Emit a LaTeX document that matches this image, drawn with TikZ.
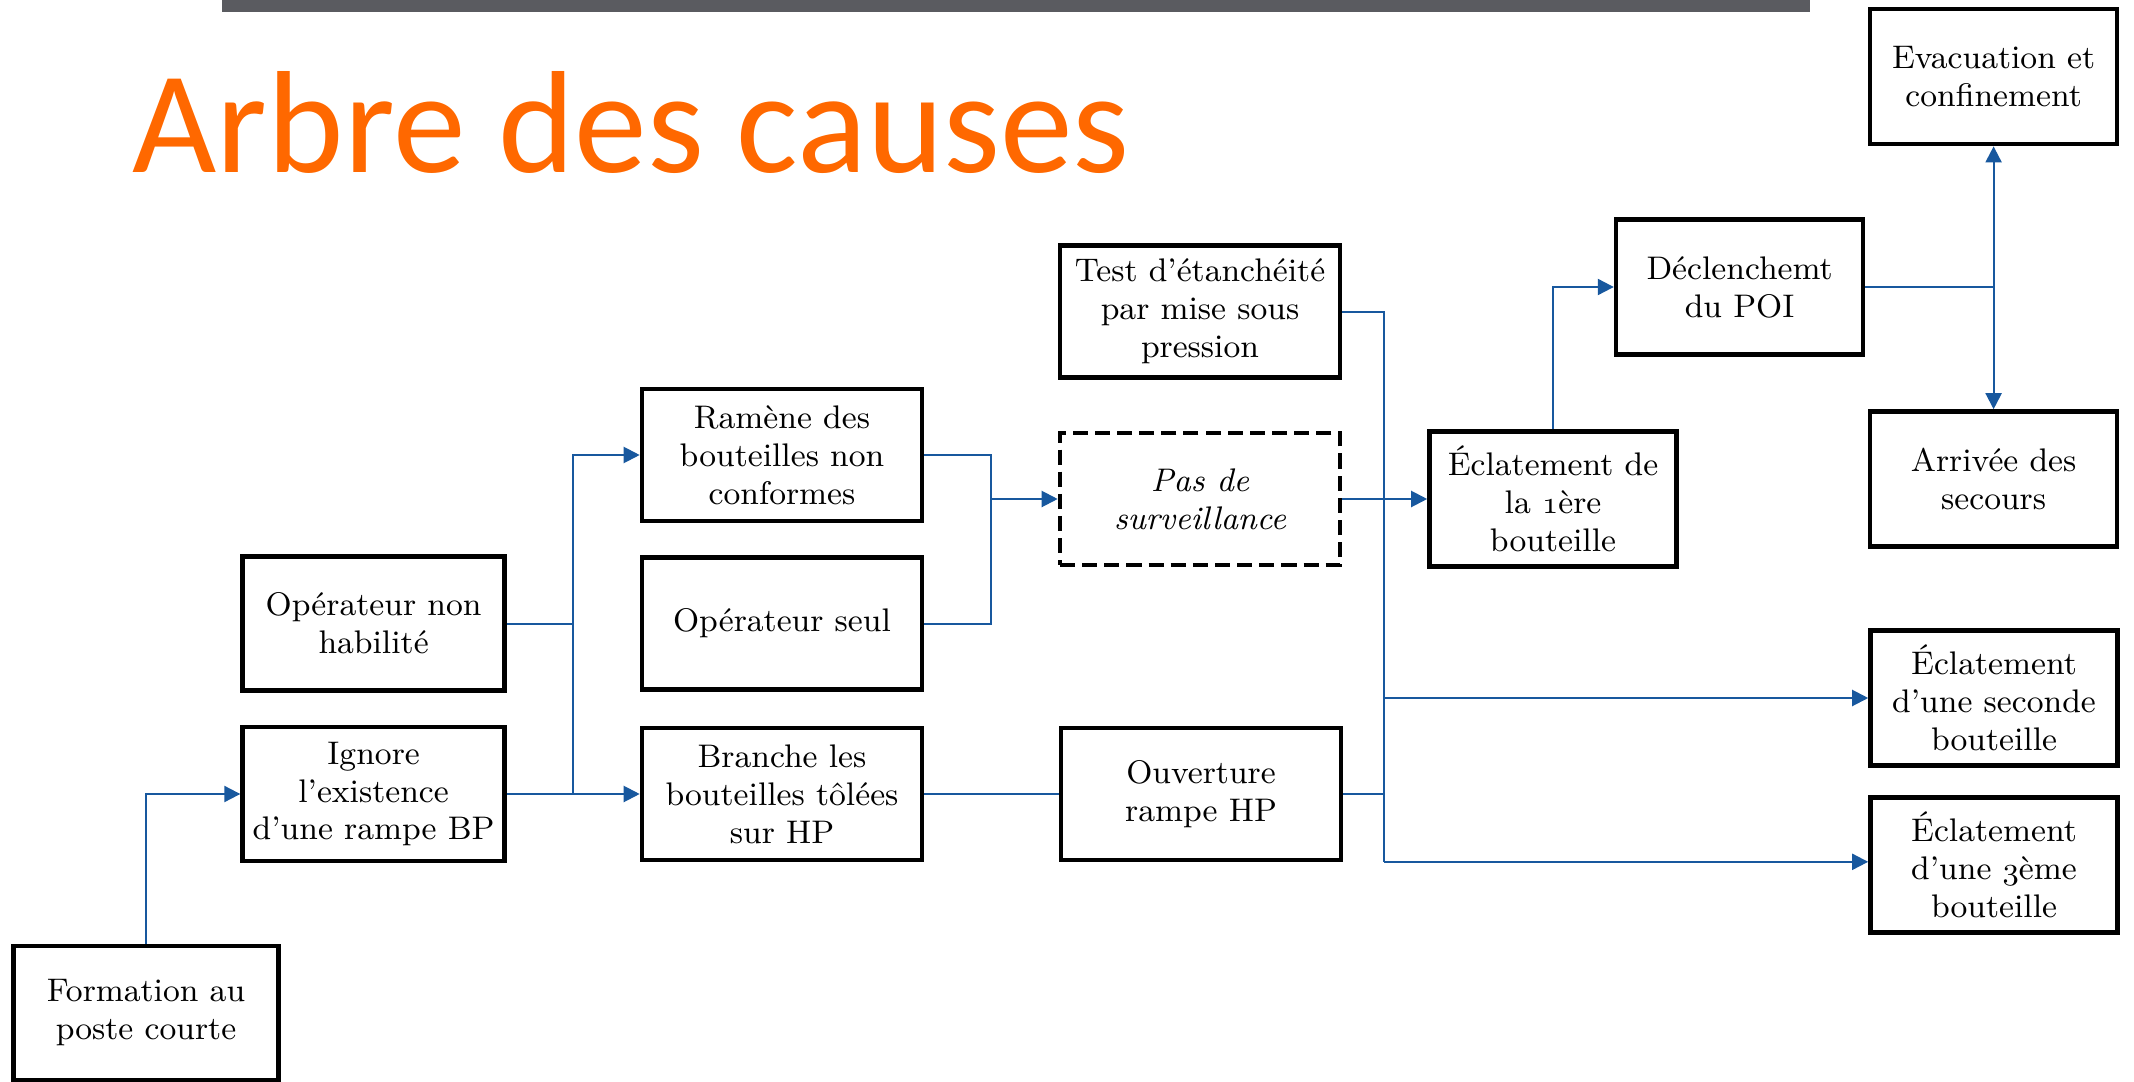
\documentclass[tikz,border=0pt]{standalone}
\usepackage{fontspec}
\usepackage{tikz}
\usetikzlibrary{arrows.meta}
\newfontfamily\titlefont{Carlito}
\newcommand\osf[1]{{\usefont{OML}{cmm}{m}{it}#1}}
\definecolor{titleorange}{RGB}{255,104,0}
\definecolor{bargray}{RGB}{90,91,96}
\definecolor{linkblue}{RGB}{24,88,158}
\begin{document}
\begin{tikzpicture}[scale=0.2]
\tikzstyle{every node}+=[inner sep=0pt]
\tikzstyle{box}=[draw=black, line width=1.3pt, align=center, minimum height=1.32cm,
  font=\fontsize{9.3}{10.8}\selectfont]
\tikzstyle{wide}=[box, minimum width=2.8cm]
\tikzstyle{narrow}=[box, minimum width=2.47cm, minimum height=1.35cm]
\tikzstyle{left}=[box, minimum width=2.62cm, minimum height=1.34cm]
\tikzstyle{link}=[linkblue, line width=0.6pt, -{Triangle[length=0.16cm,width=0.16cm]}]
\tikzstyle{wire}=[linkblue, line width=0.6pt]
\useasboundingbox (0,0) rectangle (106.7,-54.05);
\fill [bargray] (11.1,0) rectangle (90.5,-0.58);
\draw (6.6,-8.6) node [anchor=base west, text=titleorange, font=\fontsize{41.4}{48}\titlefont] (title) {Arbre des causes};
\draw (99.68,-3.83) node [narrow] (evac) {Evacuation et\\confinement};
\draw (86.98,-14.35) node [narrow] (decl) {Déclenchemt\\du POI};
\draw (99.68,-23.95) node [narrow] (arrivee) {Arrivée des\\secours};
\draw (60,-15.58) node [wide] (test) {Test d’étanchéité\\par mise sous\\pression};
\draw (39.1,-22.75) node [wide] (ramene) {Ramène des\\bouteilles non\\conformes};
\draw (60,-24.95) node [wide, dash pattern=on 4.3pt off 2pt, font=\fontsize{9.3}{10.8}\selectfont\itshape] (pas) {Pas de\\surveillance};
\draw (77.65,-24.95) node [narrow] (ecl1) {Éclatement de\\la \osf{1}ère\\bouteille};
\draw (18.68,-31.18) node [left] (opnon) {Opérateur non\\habilité};
\draw (39.1,-31.18) node [wide] (opseul) {Opérateur seul};
\draw (99.7,-34.9) node [narrow] (ecl2) {Éclatement\\d’une seconde\\bouteille};
\draw (18.68,-39.7) node [left] (ignore) {Ignore\\l’existence\\d’une rampe BP};
\draw (39.1,-39.7) node [wide] (branche) {Branche les\\bouteilles tôlées\\sur HP};
\draw (60.05,-39.7) node [wide] (ouvert) {Ouverture\\rampe HP};
\draw (99.7,-43.25) node [narrow] (ecl3) {Éclatement\\d’une \osf{3}ème\\bouteille};
\draw (7.3,-50.65) node [left, minimum width=2.65cm] (formation) {Formation au\\poste courte};
% junctions
\coordinate (ja) at (28.65,0);
\coordinate (jb) at (49.55,0);
\coordinate (jc) at (69.2,0);
\coordinate (e3) at ([yshift=4.5pt]ecl3.west);
% causes on the left
\draw [link] (formation.north) |- (ignore.west);
\draw [wire] (opnon.east) -- (opnon.east -| ja);
\draw [link] (ignore.east -| ja) |- (ramene.west);
\draw [link] (ignore.east) -- (branche.west);
\draw [wire] (ramene.east) -- (ramene.east -| jb) -- (opseul.east -| jb) -- (opseul.east);
\draw [link] (pas.west -| jb) -- (pas.west);
\draw [link] (pas.east) -- (ecl1.west);
\draw [wire] (branche.east) -- (ouvert.west);
% towards the explosions
\draw [wire] (test.east) -- (test.east -| jc) -- (e3 -| jc);
\draw [wire] (ouvert.east) -- (ouvert.east -| jc);
\draw [link] (ecl2.west -| jc) -- (ecl2.west);
\draw [link] (e3 -| jc) -- (e3);
\draw [link] (ecl1.north) |- (decl.west);
\draw [wire] (decl.east) -- (decl.east -| evac.south);
\draw [link, {Triangle[length=0.16cm,width=0.16cm]}-{Triangle[length=0.16cm,width=0.16cm]}] (evac.south) -- (arrivee.north);
\end{tikzpicture}
\end{document}
